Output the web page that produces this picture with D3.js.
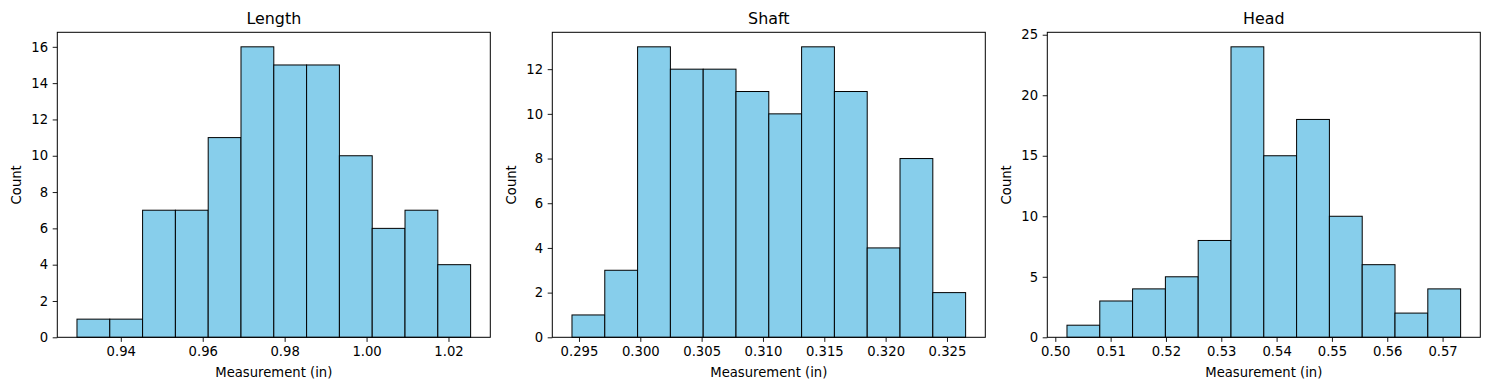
<!DOCTYPE html>
<html>
<head>
<meta charset="utf-8">
<script src="https://cdn.jsdelivr.net/npm/d3@7"></script>
<style>
  body { margin: 0; background: #fff; }
  text { font-family: "DejaVu Sans", sans-serif; fill: #000; }
</style>
</head>
<body>
<svg id="chart" width="1489" height="390"></svg>
<script>
let width = 1489;
let height = 390;

// data
let titles = ["Length", "Shaft", "Head"];
let binLo = [0.9293, 0.29443, 0.50211];
let binHi = [1.0254, 0.32652, 0.57326];
let lengthCounts = [1, 1, 7, 7, 11, 16, 15, 15, 10, 6, 7, 4];
let shaftCounts = [1, 3, 13, 12, 12, 11, 10, 13, 11, 4, 8, 2];
let headCounts = [1, 3, 4, 5, 8, 24, 15, 18, 10, 6, 2, 4];
let lengthXTicks = [0.94, 0.96, 0.98, 1.00, 1.02];
let shaftXTicks = [0.295, 0.300, 0.305, 0.310, 0.315, 0.320, 0.325];
let headXTicks = [0.50, 0.51, 0.52, 0.53, 0.54, 0.55, 0.56, 0.57];
let lengthYTicks = [0, 2, 4, 6, 8, 10, 12, 14, 16];
let shaftYTicks = [0, 2, 4, 6, 8, 10, 12];
let headYTicks = [0, 5, 10, 15, 20, 25];
let xFormats = [".2f", ".3f", ".2f"];

let counts = [lengthCounts, shaftCounts, headCounts];
let xTicks = [lengthXTicks, shaftXTicks, headXTicks];
let yTicks = [lengthYTicks, shaftYTicks, headYTicks];

let panelLeft = [57.3, 552.3, 1047.3];
let panelW = 433;
let plotTop = 32.3;
let plotBottom = 337.3;
let tickLen = 4.6;
let fontSize = { tick: 13.2, title: 15.9 };

let svg = d3.select("#chart");

titles.forEach(function(title, i) {
    let left = panelLeft[i];
    let right = left + panelW;
    let lo = binLo[i], hi = binHi[i];
    let pad = (hi - lo) * 0.05;
    let nb = counts[i].length;
    let step = (hi - lo) / nb;

    let scaleX = d3.scaleLinear().domain([lo - pad, hi + pad]).range([left, right]);
    let scaleY = d3.scaleLinear().domain([0, d3.max(counts[i]) * 1.05]).range([plotBottom, plotTop]);

    let g = svg.append("g");

    g.selectAll(".bar").data(counts[i]).enter()
        .append("rect")
        .attr("class", "bar")
        .attr("x", (d, j) => scaleX(lo + j * step))
        .attr("width", (d, j) => scaleX(lo + (j + 1) * step) - scaleX(lo + j * step))
        .attr("y", d => scaleY(d))
        .attr("height", d => scaleY(0) - scaleY(d))
        .attr("fill", "#87ceeb")
        .attr("stroke", "#000")
        .attr("stroke-width", 1);

    // x axis
    let xAxis = d3.axisBottom(scaleX).tickValues(xTicks[i])
        .tickFormat(d3.format(xFormats[i])).tickSize(tickLen).tickPadding(4.6);
    let gx = g.append("g").attr("transform", "translate(0," + plotBottom + ")").call(xAxis);
    gx.select(".domain").remove();
    gx.selectAll("text").style("font-size", fontSize.tick + "px").attr("fill", "#000")
        .attr("font-family", "DejaVu Sans");
    gx.selectAll("line").attr("stroke", "#000").attr("stroke-width", 0.9);

    // y axis
    let yAxis = d3.axisLeft(scaleY).tickValues(yTicks[i])
        .tickFormat(d3.format("d")).tickSize(tickLen).tickPadding(4.6);
    let gy = g.append("g").attr("transform", "translate(" + left + ",0)").call(yAxis);
    gy.select(".domain").remove();
    gy.selectAll("text").style("font-size", fontSize.tick + "px").attr("fill", "#000")
        .attr("font-family", "DejaVu Sans");
    gy.selectAll("line").attr("stroke", "#000").attr("stroke-width", 0.9);

    // frame
    g.append("rect")
        .attr("x", left).attr("y", plotTop)
        .attr("width", panelW).attr("height", plotBottom - plotTop)
        .attr("fill", "none").attr("stroke", "#000").attr("stroke-width", 1);

    g.append("text")
        .text(title)
        .attr("text-anchor", "middle")
        .attr("x", (left + right) / 2)
        .attr("y", 23.5)
        .style("font-size", fontSize.title + "px");

    g.append("text")
        .text("Measurement (in)")
        .attr("text-anchor", "middle")
        .attr("x", (left + right) / 2)
        .attr("y", 376.5)
        .style("font-size", fontSize.tick + "px");

    g.append("text")
        .text("Count")
        .attr("text-anchor", "middle")
        .attr("transform", "translate(" + (left - 36) + "," + ((plotTop + plotBottom) / 2) + ") rotate(-90)")
        .style("font-size", fontSize.tick + "px");
});
</script>
</body>
</html>
